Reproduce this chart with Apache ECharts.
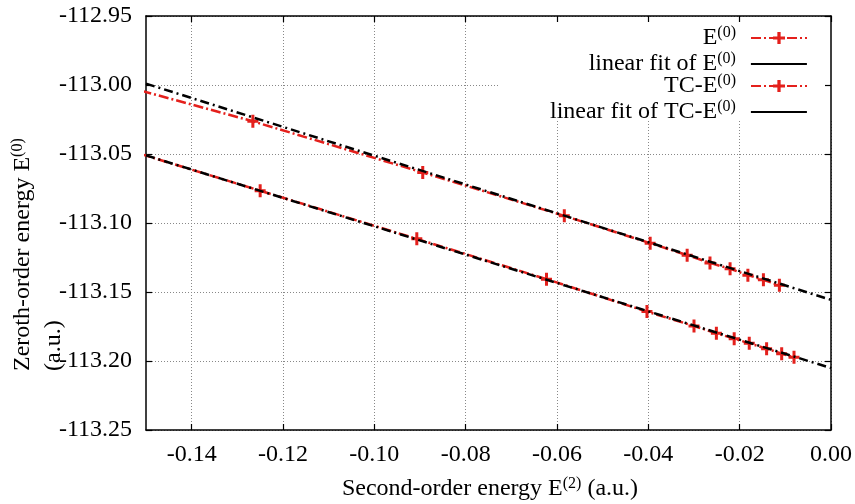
<!DOCTYPE html>
<html>
<head>
<meta charset="utf-8">
<script src="https://cdn.jsdelivr.net/npm/echarts@6/dist/echarts.min.js"></script>
<style>
  html, body { margin: 0; padding: 0; background: #fff; }
  #chart { width: 855px; height: 504px; }
</style>
</head>
<body>
<div id="chart"></div>
<script>
// Second-order energy (x) for each computed point
const e2Plain = [-0.17, -0.1266, -0.0894, -0.0584, -0.0396, -0.0315, -0.0265, -0.0221, -0.0182, -0.0148, -0.0113];
const e0Plain = [-112.987, -113.0263, -113.0634, -113.0948, -113.1146, -113.1233, -113.1289, -113.1332, -113.1378, -113.1412, -113.1451];

const e2TC = [-0.17, -0.1250, -0.0907, -0.0623, -0.0403, -0.0300, -0.0251, -0.0212, -0.0179, -0.0141, -0.0108, -0.0081];
const e0TC = [-113.0308, -113.0766, -113.1115, -113.1407, -113.1642, -113.1746, -113.1799, -113.1838, -113.1872, -113.1911, -113.1947, -113.1973];

// Linear fits, evaluated at both ends of the x range
const fitX = [-0.15, 0.0];
const fitPlain = [-112.999, -113.1557];
const fitTC = [-113.051, -113.2051];

// Tick values
const xTicks = [-0.14, -0.12, -0.10, -0.08, -0.06, -0.04, -0.02, 0.00];
const yMin = -113.25, yMax = -112.95, yStep = 0.05;

const names = ['E(0)', 'linear fit of E(0)', 'TC-E(0)', 'linear fit of TC-E(0)'];
const richNames = {
  'E(0)': '{t|E}{s|(0)}',
  'linear fit of E(0)': '{t|linear fit of E}{s|(0)}',
  'TC-E(0)': '{t|TC-E}{s|(0)}',
  'linear fit of TC-E(0)': '{t|linear fit of TC-E}{s|(0)}'
};

const FONT = '"Liberation Serif", "Times New Roman", serif';
const FS = 24;
const RED = '#e4201c';
const CROSS = 'path://M4,0 L7,0 L7,5 L11,5 L11,8 L7,8 L7,13 L4,13 L4,8 L0,8 L0,5 L4,5 Z';

const zip = (xs, ys) => xs.map((x, i) => [x, ys[i]]);

const rich = {
  t: { fontFamily: FONT, fontSize: FS, color: '#000', lineHeight: 26 },
  s: { fontFamily: FONT, fontSize: 16, color: '#000', verticalAlign: 'top', lineHeight: 18 }
};

function legendAt(name, top, opts) {
  return {
    show: true,
    data: [Object.assign({ name: name }, opts || {})],
    right: 47,
    top: top,
    padding: 0,
    align: 'right',
    itemWidth: 56,
    itemHeight: 15,
    formatter: n => richNames[n],
    textStyle: { fontFamily: FONT, fontSize: FS, color: '#000', padding: [0, 10, 0, 0], rich: rich },
    selectedMode: false
  };
}

// legend entry for a fit: plain solid black stroke, no marker
const fitKey = {
  lineStyle: { type: 'solid', width: 2.2, color: '#000' },
  itemStyle: { color: 'rgba(0,0,0,0)', borderWidth: 0, opacity: 0 }
};

const chart = echarts.init(document.getElementById('chart'), null, { renderer: 'canvas' });

const axisLineStyle = { color: '#000', width: 1.5 };

chart.setOption({
  animation: false,
  backgroundColor: '#fff',
  grid: { left: 146, right: 21, top: 16, bottom: 74, containLabel: false },
  xAxis: [
    {
      type: 'value', min: -0.15, max: 0, position: 'bottom',
      axisLine: { show: true, onZero: false, lineStyle: axisLineStyle },
      axisTick: { show: true, inside: true, length: 6, customValues: xTicks, lineStyle: { color: '#000', width: 1.2 } },
      axisLabel: { show: true, customValues: xTicks, margin: 13, formatter: v => v.toFixed(2),
                   fontFamily: FONT, fontSize: FS, color: '#000' },
      splitLine: { show: true, lineStyle: { color: '#888', width: 1, type: [1, 2] } },
      z: 0
    },
    {
      type: 'value', min: -0.15, max: 0, position: 'top',
      axisLine: { show: true, onZero: false, lineStyle: axisLineStyle },
      axisTick: { show: true, inside: true, length: 6, customValues: xTicks, lineStyle: { color: '#000', width: 1.2 } },
      axisLabel: { show: false },
      splitLine: { show: false }, z: 5
    }
  ],
  yAxis: [
    {
      type: 'value', min: yMin, max: yMax, interval: yStep, position: 'left',
      axisLine: { show: true, onZero: false, lineStyle: axisLineStyle },
      axisTick: { show: true, inside: true, length: 6, lineStyle: { color: '#000', width: 1.2 } },
      axisLabel: { show: true, margin: 14, formatter: v => v.toFixed(2),
                   fontFamily: FONT, fontSize: FS, color: '#000' },
      splitLine: { show: true, lineStyle: { color: '#888', width: 1, type: [1, 2] } },
      z: 0
    },
    {
      type: 'value', min: yMin, max: yMax, interval: yStep, position: 'right',
      axisLine: { show: true, onZero: false, lineStyle: axisLineStyle },
      axisTick: { show: true, inside: true, length: 6, lineStyle: { color: '#000', width: 1.2 } },
      axisLabel: { show: false },
      splitLine: { show: false }, z: 5
    }
  ],
  legend: [
    legendAt(names[0], 25),
    legendAt(names[1], 51, fitKey),
    legendAt(names[2], 73),
    legendAt(names[3], 99, fitKey)
  ],
  graphic: [
    // blank panel behind the key
    { type: 'rect', z: 1, shape: { x: 498, y: 17, width: 335, height: 104 }, style: { fill: '#fff' }, silent: true },
    { type: 'text', x: 23, y: 371, rotation: Math.PI / 2,
      style: { text: '{t|Zeroth-order energy E}{s|(0)}', rich: rich, align: 'left', verticalAlign: 'middle' } },
    { type: 'text', x: 54, y: 371, rotation: Math.PI / 2,
      style: { text: '{t|(a.u.)}', rich: rich, align: 'left', verticalAlign: 'middle' } },
    { type: 'text', x: 490, y: 489,
      style: { text: '{t|Second-order energy E}{s|(2)}{t| (a.u.)}', rich: rich, align: 'center', verticalAlign: 'middle' } }
  ],
  series: [
    {
      name: names[0], type: 'line', data: zip(e2Plain, e0Plain), z: 3,
      symbol: CROSS, symbolSize: [11, 13], showAllSymbol: true,
      itemStyle: { color: RED }, lineStyle: { color: RED, width: 2.5, type: [10, 3, 2, 3] },
      clip: true
    },
    {
      name: names[1], type: 'line', data: zip(fitX, fitPlain), z: 4, showSymbol: false, symbol: 'none',
      itemStyle: { color: '#000' }, lineStyle: { color: '#000', width: 2.5, type: [9, 4, 2, 4] }
    },
    {
      name: names[2], type: 'line', data: zip(e2TC, e0TC), z: 3,
      symbol: CROSS, symbolSize: [11, 13], showAllSymbol: true,
      itemStyle: { color: RED }, lineStyle: { color: RED, width: 2.5, type: [10, 3, 2, 3] },
      clip: true
    },
    {
      name: names[3], type: 'line', data: zip(fitX, fitTC), z: 4, showSymbol: false, symbol: 'none',
      itemStyle: { color: '#000' }, lineStyle: { color: '#000', width: 2.5, type: [9, 4, 2, 4] }
    }
  ]
});
</script>
</body>
</html>
